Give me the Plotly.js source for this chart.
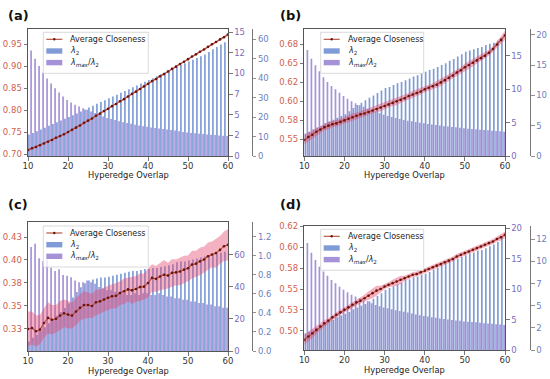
<!DOCTYPE html>
<html><head><meta charset="utf-8">
<script src="https://cdn.plot.ly/plotly-3.0.1.min.js"></script>
<style>html,body{margin:0;padding:0;background:#fff;}#chart{width:550px;height:379px;}</style>
</head><body><div id="chart"></div>
<script>
const X = [10,11,12,13,14,15,16,17,18,19,20,21,22,23,24,25,26,27,28,29,30,31,32,33,34,35,36,37,38,39,40,41,42,43,44,45,46,47,48,49,50,51,52,53,54,55,56,57,58,59,60];

// Panel (a)
const aClose = [0.709,0.713,0.716,0.720,0.724,0.728,0.732,0.737,0.741,0.745,0.750,0.755,0.760,0.765,0.771,0.776,0.781,0.787,0.792,0.798,0.803,0.809,0.814,0.820,0.825,0.831,0.837,0.842,0.848,0.854,0.860,0.866,0.871,0.877,0.882,0.888,0.894,0.899,0.905,0.910,0.916,0.922,0.927,0.933,0.938,0.944,0.950,0.955,0.961,0.966,0.972];
const aStd = [0.003,0.002,0.002,0.002,0.002,0.002,0.002,0.002,0.002,0.002,0.002,0.002,0.002,0.002,0.002,0.002,0.002,0.002,0.002,0.002,0.002,0.002,0.002,0.002,0.002,0.002,0.002,0.002,0.002,0.002,0.002,0.002,0.002,0.002,0.002,0.002,0.002,0.002,0.002,0.002,0.002,0.002,0.002,0.002,0.002,0.002,0.002,0.002,0.002,0.002,0.003];
const aL2 = [11.0,11.8,12.7,13.6,14.5,15.5,16.4,17.3,18.2,19.1,20.1,21.0,21.9,22.9,23.9,24.9,25.8,26.8,27.7,28.7,29.7,30.6,31.5,32.5,33.4,34.3,35.3,36.2,37.2,38.1,39.1,40.0,41.0,42.0,42.9,43.9,44.8,45.7,46.7,47.6,48.5,49.4,50.3,51.2,52.2,53.5,54.8,56.0,57.3,58.5,59.7];
const aRatio = [14.1,12.8,11.8,10.9,10.1,9.4,8.8,8.2,7.7,7.2,6.8,6.5,6.2,6.0,5.8,5.6,5.4,5.2,5.0,4.8,4.6,4.5,4.35,4.2,4.1,4.0,3.9,3.8,3.7,3.62,3.55,3.47,3.4,3.33,3.27,3.2,3.14,3.08,3.0,2.92,2.85,2.8,2.75,2.7,2.66,2.62,2.58,2.54,2.5,2.46,2.43];

// Panel (b)
const bClose = [0.549,0.553,0.556,0.560,0.563,0.566,0.568,0.570,0.571,0.573,0.575,0.577,0.579,0.581,0.583,0.584,0.586,0.588,0.590,0.592,0.594,0.596,0.598,0.600,0.602,0.604,0.607,0.609,0.611,0.613,0.616,0.618,0.620,0.622,0.625,0.628,0.631,0.634,0.638,0.641,0.645,0.648,0.651,0.654,0.657,0.660,0.664,0.669,0.675,0.681,0.687];
const bStd = [0.006,0.006,0.005,0.005,0.004,0.004,0.005,0.004,0.004,0.004,0.004,0.005,0.005,0.004,0.004,0.004,0.004,0.004,0.004,0.005,0.004,0.004,0.004,0.005,0.004,0.004,0.004,0.005,0.005,0.004,0.004,0.004,0.004,0.005,0.005,0.004,0.004,0.004,0.004,0.004,0.005,0.005,0.005,0.004,0.004,0.004,0.004,0.004,0.004,0.005,0.006];
const bL2 = [3.7,4.0,4.4,4.7,5.0,5.4,5.7,6.0,6.3,6.6,6.9,7.4,7.9,8.4,8.8,9.2,9.6,10.0,10.4,10.8,11.2,11.4,11.7,12.0,12.2,12.5,12.8,13.1,13.3,13.6,13.9,14.2,14.4,14.7,15.0,15.3,15.7,16.0,16.4,16.8,17.2,17.4,17.6,17.8,18.0,18.3,18.5,18.7,19.0,19.5,20.2];
const bRatio = [17.4,15.9,14.6,13.6,12.7,11.8,11.1,10.5,10.0,9.5,9.0,8.6,8.2,7.9,7.6,7.4,7.1,6.9,6.7,6.4,6.2,6.0,5.85,5.7,5.55,5.4,5.3,5.2,5.1,5.0,4.9,4.8,4.72,4.64,4.56,4.48,4.42,4.36,4.3,4.22,4.15,4.1,4.05,4.0,3.95,3.9,3.85,3.8,3.75,3.7,3.65];

// Panel (c)
const cClose = [0.325,0.326,0.3225,0.3243,0.3315,0.337,0.335,0.336,0.3395,0.342,0.3406,0.3395,0.344,0.348,0.351,0.351,0.350,0.354,0.355,0.357,0.359,0.3605,0.361,0.364,0.366,0.368,0.367,0.3685,0.3705,0.371,0.375,0.3805,0.3795,0.382,0.384,0.383,0.386,0.3865,0.3875,0.3895,0.391,0.395,0.396,0.3985,0.4005,0.404,0.406,0.4075,0.411,0.415,0.4165];
const cStd = [0.019,0.018,0.017,0.016,0.016,0.017,0.016,0.015,0.016,0.015,0.015,0.014,0.015,0.014,0.015,0.014,0.013,0.014,0.013,0.013,0.013,0.013,0.014,0.013,0.014,0.013,0.015,0.014,0.015,0.014,0.016,0.015,0.014,0.015,0.016,0.014,0.015,0.014,0.015,0.015,0.014,0.015,0.014,0.015,0.014,0.015,0.014,0.016,0.015,0.016,0.017];
const cL2 = [0.10,0.14,0.17,0.21,0.25,0.29,0.33,0.37,0.41,0.45,0.50,0.56,0.62,0.67,0.71,0.74,0.75,0.76,0.77,0.77,0.78,0.79,0.80,0.81,0.82,0.83,0.84,0.84,0.85,0.86,0.86,0.87,0.87,0.88,0.89,0.90,0.91,0.93,0.94,0.94,0.95,0.96,0.97,0.98,0.99,1.00,1.01,1.02,1.03,1.04,1.05];
const cRatio = [72,65,67,58,56,57,52,50,51,47.5,47,46,44,43,43,44,43,42,40,39,38,38,37,37,36,35,35,36,35,36,36,35,35,36,35,34,34,33,33,32,32,31,31,30,30,29,29,28,28,27,27];

// Panel (d)
const dClose = [0.489,0.493,0.497,0.501,0.505,0.509,0.512,0.516,0.519,0.522,0.525,0.528,0.531,0.534,0.536,0.539,0.542,0.545,0.548,0.550,0.553,0.555,0.557,0.559,0.561,0.563,0.565,0.567,0.568,0.570,0.572,0.574,0.576,0.578,0.580,0.582,0.584,0.586,0.589,0.591,0.593,0.595,0.597,0.599,0.601,0.603,0.605,0.607,0.610,0.612,0.615];
const dStd = [0.006,0.006,0.005,0.005,0.004,0.004,0.003,0.003,0.003,0.003,0.003,0.003,0.003,0.003,0.003,0.004,0.005,0.006,0.006,0.004,0.003,0.003,0.004,0.005,0.005,0.003,0.003,0.003,0.003,0.003,0.003,0.003,0.003,0.003,0.003,0.003,0.003,0.003,0.003,0.003,0.003,0.003,0.003,0.003,0.003,0.003,0.003,0.003,0.003,0.004,0.004];
const dL2 = [1.9,2.1,2.3,2.5,2.8,3.0,3.2,3.4,3.7,3.9,4.1,4.3,4.6,4.8,5.0,5.2,5.5,5.8,6.1,6.4,6.8,7.0,7.2,7.4,7.6,7.9,8.0,8.2,8.3,8.5,8.6,8.8,9.1,9.3,9.6,9.8,10.0,10.2,10.3,10.5,10.7,10.9,11.0,11.2,11.3,11.5,11.7,11.9,12.2,12.7,13.3];
const dRatio = [18.7,17.6,16.0,14.8,13.7,12.9,12.2,11.5,11.0,10.4,9.9,9.5,9.1,8.8,8.5,8.2,8.0,7.7,7.4,7.2,7.0,6.85,6.7,6.55,6.4,6.3,6.15,6.0,5.85,5.7,5.6,5.5,5.4,5.3,5.2,5.1,5.0,4.95,4.85,4.8,4.7,4.65,4.6,4.55,4.5,4.4,4.35,4.3,4.25,4.2,4.1];

// Tick labels
const xTicks = [10,20,30,40,50,60];
const aLeftTicks = [0.70,0.75,0.80,0.85,0.90,0.95];
const aLeftText = ['0.70','0.75','0.80','0.85','0.90','0.95'];
const aR1Ticks = [0,2.5,5,7.5,10,12.5,15];
const aR1Text = ['0','2','5','7','10','12','15'];
const aR2Ticks = [0,10,20,30,40,50,60];
const aR2Text = ['0','10','20','30','40','50','60'];
const bLeftTicks = [0.55,0.575,0.6,0.625,0.65,0.675];
const bLeftText = ['0.55','0.58','0.60','0.62','0.65','0.68'];
const bR1Ticks = [0,5,10,15];
const bR1Text = ['0','5','10','15'];
const bR2Ticks = [0,5,10,15,20];
const bR2Text = ['0','5','10','15','20'];
const cLeftTicks = [0.325,0.35,0.375,0.4,0.425];
const cLeftText = ['0.33','0.35','0.38','0.40','0.43'];
const cR1Ticks = [0,20,40,60];
const cR1Text = ['0','20','40','60'];
const cR2Ticks = [0,0.2,0.4,0.6,0.8,1.0,1.2];
const cR2Text = ['0.0','0.2','0.4','0.6','0.8','1.0','1.2'];
const dLeftTicks = [0.5,0.525,0.55,0.575,0.6,0.625];
const dLeftText = ['0.50','0.53','0.55','0.58','0.60','0.62'];
const dR1Ticks = [0,5,10,15,20];
const dR1Text = ['0','5','10','15','20'];
const dR2Ticks = [0,2.5,5,7.5,10,12.5];
const dR2Text = ['0','2','5','7','10','12'];

const panelLabels = ['(a)','(b)','(c)','(d)'];
const legendNames = ['Average Closeness', '<i>λ</i><sub>2</sub>', '<i>λ<sub>max</sub></i>/<i>λ</i><sub>2</sub>'];
const xTitle = 'Hyperedge Overlap';

// layout helpers (pixels of the 550x379 page)
const W = 550, H = 379;
const px = v => v / W, py = v => 1 - v / H;

const panels = [
  {close:aClose, std:aStd, l2:aL2, ratio:aRatio, lt:aLeftTicks, ltx:aLeftText, r1t:aR1Ticks, r1x:aR1Text, r2t:aR2Ticks, r2x:aR2Text,
   lr:[0.6955,0.984], r1r:[0,15.36], r2r:[0,65.1], xd:[28,228], yd:[156,29.3], p2:251.7, leg:[43.3,32.3,105], lab:[6,15], xt:174.5},
  {close:bClose, std:bStd, l2:bL2, ratio:bRatio, lt:bLeftTicks, ltx:bLeftText, r1t:bR1Ticks, r1x:bR1Text, r2t:bR2Ticks, r2x:bR2Text,
   lr:[0.528,0.695], r1r:[0,19.0], r2r:[0,20.9], xd:[304.3,505], yd:[156,29.3], p2:530, leg:[320.7,32.3,103], lab:[278,15], xt:174.5},
  {close:cClose, std:cStd, l2:cL2, ratio:cRatio, lt:cLeftTicks, ltx:cLeftText, r1t:cR1Ticks, r1x:cR1Text, r2t:cR2Ticks, r2x:cR2Text,
   lr:[0.301,0.441], r1r:[0,80.4], r2r:[0,1.35], xd:[28,228], yd:[351,222.3], p2:251.7, leg:[43.3,226,105], lab:[6,204], xt:371},
  {close:dClose, std:dStd, l2:dL2, ratio:dRatio, lt:dLeftTicks, ltx:dLeftText, r1t:dR1Ticks, r1x:dR1Text, r2t:dR2Ticks, r2x:dR2Text,
   lr:[0.4769,0.6255], r1r:[0,20.4], r2r:[0,14.0], xd:[304.3,505], yd:[350,226], p2:530, leg:[320.7,229.3,103], lab:[278,204], xt:370}
];

const FONT = 'DejaVu Sans, Arial, sans-serif';
const colRatio = 'rgba(130,104,202,0.72)';
const colL2 = 'rgba(78,118,198,0.72)';
const colLine = '#b34a30', colMarker = '#6a1410';
const traces = [];
const layout = {
  width:W, height:H, margin:{l:0,r:0,t:0,b:0},
  paper_bgcolor:'#fff', plot_bgcolor:'rgba(0,0,0,0)',
  font:{family:FONT, size:8.5, color:'#333'},
  barmode:'overlay', showlegend:false, annotations:[], shapes:[]
};
const spine = '#555';

panels.forEach((p, i) => {
  const xn = i === 0 ? '' : String(i+1);
  const yb = 3*i+1, y2 = 3*i+2, y3 = 3*i+3;
  const yn = n => n === 1 ? '' : String(n);
  const xa = 'x' + xn;

  traces.push({type:'bar', x:X, y:p.ratio, xaxis:xa, yaxis:'y'+yn(yb), name:legendNames[2],
    width:0.42, offset:-0.44, marker:{color:colRatio, line:{width:0}}, hoverinfo:'skip'});
  traces.push({type:'bar', x:X, y:p.l2, xaxis:xa, yaxis:'y'+yn(y2), name:legendNames[1],
    width:0.42, offset:0.02, marker:{color:colL2, line:{width:0}}, hoverinfo:'skip'});
  const lo = p.close.map((v,k) => v - p.std[k]);
  const hi = p.close.map((v,k) => v + p.std[k]);
  traces.push({type:'scatter', mode:'lines', x:X, y:lo, xaxis:xa, yaxis:'y'+yn(y3), line:{width:0, color:'rgba(0,0,0,0)'}, hoverinfo:'skip'});
  traces.push({type:'scatter', mode:'lines', x:X, y:hi, xaxis:xa, yaxis:'y'+yn(y3), fill:'tonexty', fillcolor:'rgba(228,70,110,0.42)', line:{width:0, color:'rgba(0,0,0,0)'}, hoverinfo:'skip'});
  traces.push({type:'scatter', mode:'lines+markers', x:X, y:p.close, xaxis:xa, yaxis:'y'+yn(y3), name:legendNames[0],
    line:{color:colLine, width:1.1}, marker:{size:2.6, color:colMarker}});

  layout['xaxis'+xn] = {domain:[px(p.xd[0]), px(p.xd[1])], anchor:'y'+yn(yb), range:[10,60], tickvals:xTicks, ticktext:xTicks.map(String),
    showline:true, linecolor:spine, linewidth:1, mirror:true, ticks:'outside', ticklen:3.5, tickwidth:0.8, tickcolor:spine,
    ticklabelstandoff:-2, showgrid:false, zeroline:false, tickfont:{size:8.5, color:'#333'}};
  layout['yaxis'+yn(yb)] = {domain:[py(p.yd[0]), py(p.yd[1])], anchor:xa, side:'right', range:p.r1r, tickvals:p.r1t, ticktext:p.r1x,
    showline:true, linecolor:spine, linewidth:1, ticks:'outside', ticklen:3.5, tickwidth:0.8, tickcolor:spine,
    showgrid:false, zeroline:false, tickfont:{size:8.5, color:'#7a6cc0'}};
  layout['yaxis'+yn(y2)] = {overlaying:'y'+yn(yb), anchor:'free', position:px(p.p2), side:'right', range:p.r2r, tickvals:p.r2t, ticktext:p.r2x,
    showline:true, linecolor:'#777', linewidth:1, ticks:'outside', ticklen:3.5, tickwidth:0.8, tickcolor:'#777',
    showgrid:false, zeroline:false, tickfont:{size:8.5, color:'#6e7fc0'}};
  layout['yaxis'+yn(y3)] = {overlaying:'y'+yn(yb), anchor:xa, side:'left', range:p.lr, tickvals:p.lt, ticktext:p.ltx,
    showline:true, linecolor:spine, linewidth:1, ticks:'outside', ticklen:3.5, tickwidth:0.8, tickcolor:spine,
    showgrid:false, zeroline:false, tickfont:{size:8.5, color:'#d2604e'}};

  // x-axis title
  layout.annotations.push({text:xTitle, xref:'paper', yref:'paper', x:px((p.xd[0]+p.xd[1])/2), y:py(p.xt),
    xanchor:'center', yanchor:'middle', showarrow:false, font:{size:8.3, color:'#222', family:FONT}});
  // panel label
  layout.annotations.push({text:'<b>'+panelLabels[i]+'</b>', xref:'paper', yref:'paper', x:px(p.lab[0]), y:py(p.lab[1]),
    xanchor:'left', yanchor:'middle', showarrow:false, font:{size:13, color:'#111', family:FONT}});

  // legend box (matplotlib-style, drawn in page pixels)
  const bx = p.leg[0], by = p.leg[1], bw = p.leg[2], bh = 41;
  layout.shapes.push({type:'rect', xref:'paper', yref:'paper', x0:px(bx), x1:px(bx+bw), y0:py(by), y1:py(by+bh),
    fillcolor:'rgba(255,255,255,0.8)', line:{color:'#cfcfcf', width:0.8}, layer:'above'});
  const rows = [by+7, by+18.7, by+30.3];
  layout.shapes.push({type:'line', xref:'paper', yref:'paper', x0:px(bx+3), x1:px(bx+19), y0:py(rows[0]), y1:py(rows[0]),
    line:{color:colLine, width:1.1}, layer:'above'});
  layout.shapes.push({type:'circle', xref:'paper', yref:'paper', x0:px(bx+9.8), x1:px(bx+12.2), y0:py(rows[0]-1.2), y1:py(rows[0]+1.2),
    fillcolor:colMarker, line:{width:0}, layer:'above'});
  [[colL2, rows[1]], [colRatio, rows[2]]].forEach(([c, r]) => {
    layout.shapes.push({type:'rect', xref:'paper', yref:'paper', x0:px(bx+3), x1:px(bx+19), y0:py(r-2.7), y1:py(r+2.7),
      fillcolor:c, line:{width:0}, layer:'above'});
  });
  legendNames.forEach((nm, k) => {
    layout.annotations.push({text:nm, xref:'paper', yref:'paper', x:px(bx+25), y:py(rows[k]), xanchor:'left', yanchor:'middle',
      showarrow:false, font:{size:8, color:'#222', family:FONT}});
  });
});

Plotly.newPlot('chart', traces, layout, {staticPlot:true, displayModeBar:false});
</script></body></html>
